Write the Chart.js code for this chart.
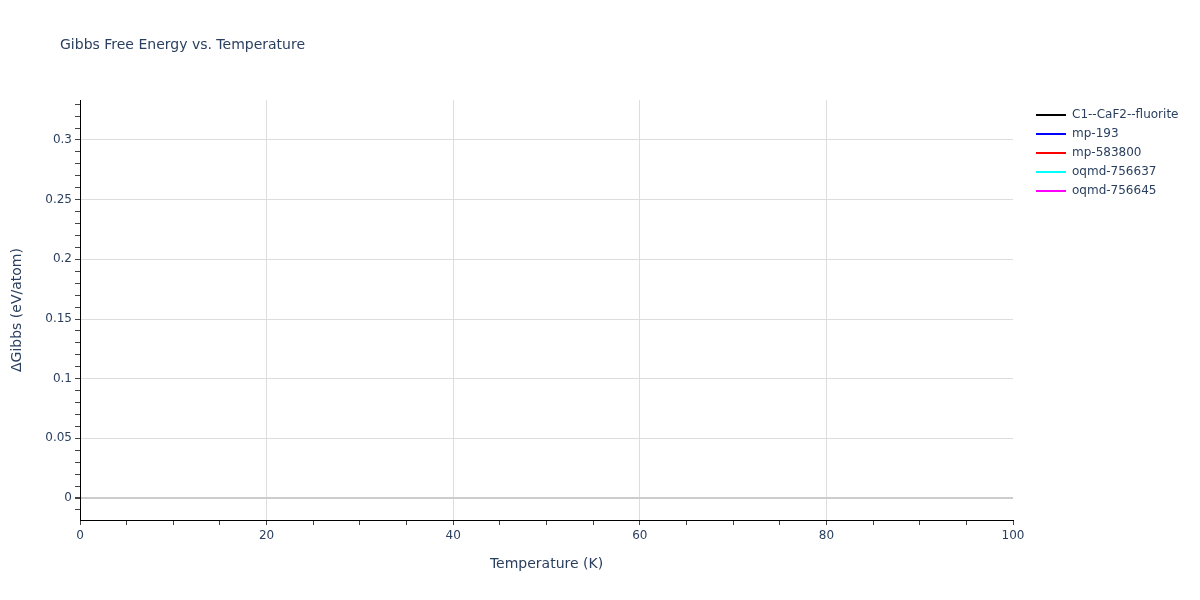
<!DOCTYPE html>
<html>
<head>
<meta charset="utf-8">
<script src="https://cdn.jsdelivr.net/npm/chart.js@4.4.1/dist/chart.umd.min.js"></script>
<style>
  html, body { margin: 0; padding: 0; background: #fff; }
  #wrap { width: 1200px; height: 600px; }
</style>
</head>
<body>
<div id="wrap"><canvas id="chart"></canvas></div>
<script>
// series names and colours (all series are empty in the source figure)
var seriesNames = ['C1--CaF2--fluorite', 'mp-193', 'mp-583800', 'oqmd-756637', 'oqmd-756645'];
var seriesColors = ['#000000', '#0000ff', '#ff0000', '#00ffff', '#ff00ff'];
var temperatures = [];
var gibbsC1 = [];
var gibbsMp193 = [];
var gibbsMp583800 = [];
var gibbsOqmd756637 = [];
var gibbsOqmd756645 = [];
var seriesValues = [gibbsC1, gibbsMp193, gibbsMp583800, gibbsOqmd756637, gibbsOqmd756645];

var xRange = [0, 100];
var yRange = [-0.0184, 0.3335];

var FONT = '"DejaVu Sans", verdana, arial, sans-serif';
var TEXT = '#2a3f5f';

var datasets = seriesNames.map(function (name, i) {
    return {
        label: name,
        data: seriesValues[i].map(function (v, j) { return { x: temperatures[j], y: v }; }),
        borderColor: seriesColors[i],
        backgroundColor: seriesColors[i],
        borderWidth: 2,
        pointRadius: 0,
        fill: false
    };
});

// plotly-like title in the top left corner, legend given a fixed width and nudged right
var titlePlugin = {
    id: 'plotTitle',
    beforeLayout: function (chart) {
        var lg = chart.legend;
        if (lg && !lg._patched) {
            lg._patched = true;
            var origFit = lg.fit;
            lg.fit = function () {
                origFit.apply(this, arguments);
                this.width = 187;
            };
        }
    },
    afterLayout: function (chart) {
        var lg = chart.legend;
        if (!lg) return;
        lg.left += 16;
        lg.right += 16;
        lg.top += 2;
        lg.bottom += 2;
    },
    afterDraw: function (chart) {
        var ctx = chart.ctx;
        ctx.save();
        ctx.font = '14px ' + FONT;
        ctx.fillStyle = TEXT;
        ctx.textBaseline = 'middle';
        ctx.fillText('Gibbs Free Energy vs. Temperature', 60, 45);
        ctx.restore();
    }
};

var isMajorY = function (v) { return Math.abs(Math.round(v * 100) % 5) === 0; };

new Chart(document.getElementById('chart'), {
    type: 'line',
    data: { datasets: datasets },
    plugins: [titlePlugin],
    options: {
        responsive: true,
        maintainAspectRatio: false,
        animation: false,
        layout: { padding: { top: 100, left: 0, right: 0, bottom: 0 } },
        plugins: {
            legend: {
                position: 'right',
                align: 'start',
                labels: {
                    color: TEXT,
                    font: { family: FONT, size: 12 },
                    boxWidth: 30,
                    boxHeight: 2,
                    padding: 7,
                    generateLabels: function (chart) {
                        return chart.data.datasets.map(function (ds, i) {
                            return {
                                text: ds.label,
                                fillStyle: ds.borderColor,
                                strokeStyle: ds.borderColor,
                                lineWidth: 0,
                                fontColor: TEXT,
                                datasetIndex: i
                            };
                        });
                    }
                }
            },
            tooltip: { enabled: false }
        },
        scales: {
            x: {
                type: 'linear',
                min: xRange[0],
                max: xRange[1],
                afterFit: function (s) { s.height = 80; },
                border: { display: true, color: '#000', width: 1 },
                grid: {
                    color: function (c) { return c.tick && c.tick.value % 20 === 0 && c.tick.value > 0 && c.tick.value < 100 ? '#dddddd' : 'rgba(0,0,0,0)'; },
                    tickColor: '#444',
                    tickLength: 5,
                    drawTicks: true
                },
                ticks: {
                    stepSize: 5,
                    autoSkip: false,
                    maxRotation: 0,
                    includeBounds: false,
                    color: TEXT,
                    font: { family: FONT, size: 12 },
                    padding: 4,
                    callback: function (v) { return v % 20 === 0 ? String(v) : ''; }
                },
                title: {
                    display: true,
                    text: 'Temperature (K)',
                    color: TEXT,
                    font: { family: FONT, size: 14 },
                    padding: { top: 4, bottom: 27 }
                }
            },
            y: {
                type: 'linear',
                min: yRange[0],
                max: yRange[1],
                afterFit: function (s) { s.width = 80; },
                border: { display: true, color: '#000', width: 1 },
                grid: {
                    color: function (c) {
                        if (!c.tick) return 'rgba(0,0,0,0)';
                        var v = c.tick.value;
                        if (Math.abs(v) < 1e-9) return '#cccccc';
                        return isMajorY(v) ? '#dddddd' : 'rgba(0,0,0,0)';
                    },
                    lineWidth: function (c) { return c.tick && Math.abs(c.tick.value) < 1e-9 ? 2 : 1; },
                    tickColor: '#444',
                    tickLength: 5,
                    drawTicks: true
                },
                ticks: {
                    stepSize: 0.01,
                    autoSkip: false,
                    maxTicksLimit: 100,
                    includeBounds: false,
                    color: TEXT,
                    font: { family: FONT, size: 12 },
                    padding: 3,
                    callback: function (v) {
                        if (!isMajorY(v)) return '';
                        return String(Math.round(v * 100) / 100);
                    }
                },
                title: {
                    display: true,
                    text: '\u0394Gibbs (eV/atom)',
                    color: TEXT,
                    font: { family: FONT, size: 14 },
                    padding: { top: 9, bottom: 4 }
                }
            }
        }
    }
});
</script>
</body>
</html>
